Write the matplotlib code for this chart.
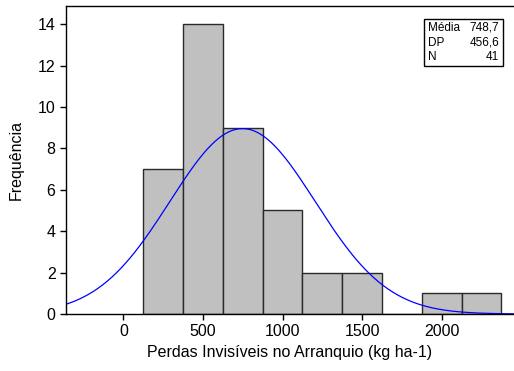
import numpy as np
import matplotlib
matplotlib.use("Agg")
import matplotlib.pyplot as plt
from matplotlib.patches import Rectangle

plt.rcParams['font.family'] = ['Liberation Sans', 'DejaVu Sans']

# histogram data (bin edges in kg ha-1, counts)
bin_left = [125, 375, 625, 875, 1125, 1375, 1625, 1875, 2125]
counts = [7, 14, 9, 5, 2, 2, 0, 1, 1]
bin_width = 250

media = 748.7
dp = 456.6
n = 41

fig = plt.figure(figsize=(5.14, 3.71), dpi=100)
ax = fig.add_axes([66 / 514, 57 / 371, 1 - 66 / 514, (314 - 5.5) / 371])

ax.bar(bin_left, counts, width=bin_width, align="edge",
       color="#c0c0c0", edgecolor="#2a2a2a", linewidth=1)

# fitted normal curve
xs = np.linspace(-400, 2500, 400)
ys = n * bin_width / (dp * np.sqrt(2 * np.pi)) * np.exp(-0.5 * ((xs - media) / dp) ** 2)
ax.plot(xs, ys, color="blue", linewidth=0.9)

ax.set_xlim(-360, 2454)
ax.set_ylim(0, 14.9)
ax.set_xticks([0, 500, 1000, 1500, 2000])
ax.set_yticks([0, 2, 4, 6, 8, 10, 12, 14])
ax.tick_params(direction="out", length=4, labelsize=11.5, width=1)
ax.spines["right"].set_visible(False)
for s in ["left", "bottom", "top"]:
    ax.spines[s].set_linewidth(1)

ax.set_xlabel("Perdas Invisíveis no Arranquio (kg ha-1)", fontsize=11.5, labelpad=4)
ax.set_ylabel("Frequência", fontsize=11.5, labelpad=10)

# stats box
bx0, by0, bx1, by1 = 424, 19, 503, 66
fig.patches.append(Rectangle((bx0 / 514, 1 - by1 / 371), (bx1 - bx0) / 514, (by1 - by0) / 371,
                             transform=fig.transFigure, facecolor="white",
                             edgecolor="black", linewidth=1, zorder=5))
labels = ["Média", "DP", "N"]
values = ["748,7", "456,6", "41"]
for i, (lab, val) in enumerate(zip(labels, values)):
    yy = 1 - (28 + i * 14.5) / 371
    fig.text(428 / 514, yy, lab, fontsize=8.5, ha="left", va="center", zorder=6)
    fig.text(499 / 514, yy, val, fontsize=8.5, ha="right", va="center", zorder=6)

fig.savefig("out.png", dpi=100)
